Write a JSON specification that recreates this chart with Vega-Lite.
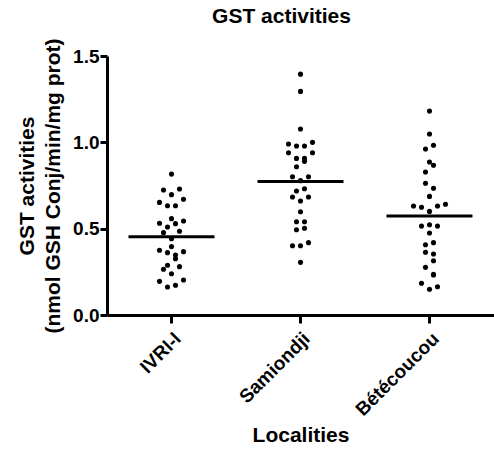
{
  "$schema": "https://vega.github.io/schema/vega-lite/v6.json",
  "width": 387,
  "height": 259,
  "autosize": {"type": "none"},
  "padding": {"left": 107, "top": 56, "right": 0, "bottom": 135},
  "background": "white",
  "title": {"text": "GST activities", "font": "Liberation Sans", "fontSize": 21, "fontWeight": "bold", "color": "black", "anchor": "middle", "dx": -19, "offset": 11},
  "config": {
    "view": {"stroke": null},
    "axis": {
      "grid": false,
      "domainColor": "black",
      "domainWidth": 3,
      "tickColor": "black",
      "tickWidth": 3,
      "labelColor": "black",
      "labelFont": "Liberation Sans",
      "labelFontWeight": "bold",
      "labelFontSize": 19,
      "titleColor": "black",
      "titleFont": "Liberation Sans",
      "titleFontWeight": "bold",
      "titleFontSize": 21
    }
  },
  "data": {
    "values": [
      {"locality": "IVRI-I", "gst": 0.816, "slot": 0},
      {"locality": "IVRI-I", "gst": 0.724, "slot": -2},
      {"locality": "IVRI-I", "gst": 0.730, "slot": 2},
      {"locality": "IVRI-I", "gst": 0.697, "slot": 0},
      {"locality": "IVRI-I", "gst": 0.652, "slot": -3},
      {"locality": "IVRI-I", "gst": 0.633, "slot": -1},
      {"locality": "IVRI-I", "gst": 0.633, "slot": 1},
      {"locality": "IVRI-I", "gst": 0.670, "slot": 3},
      {"locality": "IVRI-I", "gst": 0.558, "slot": 0},
      {"locality": "IVRI-I", "gst": 0.531, "slot": -3},
      {"locality": "IVRI-I", "gst": 0.510, "slot": -1},
      {"locality": "IVRI-I", "gst": 0.529, "slot": 1},
      {"locality": "IVRI-I", "gst": 0.544, "slot": 3},
      {"locality": "IVRI-I", "gst": 0.477, "slot": -2},
      {"locality": "IVRI-I", "gst": 0.485, "slot": 2},
      {"locality": "IVRI-I", "gst": 0.442, "slot": 0},
      {"locality": "IVRI-I", "gst": 0.396, "slot": 0},
      {"locality": "IVRI-I", "gst": 0.375, "slot": -3},
      {"locality": "IVRI-I", "gst": 0.361, "slot": -1},
      {"locality": "IVRI-I", "gst": 0.347, "slot": 1},
      {"locality": "IVRI-I", "gst": 0.326, "slot": 1},
      {"locality": "IVRI-I", "gst": 0.367, "slot": 3},
      {"locality": "IVRI-I", "gst": 0.288, "slot": -1},
      {"locality": "IVRI-I", "gst": 0.280, "slot": 2},
      {"locality": "IVRI-I", "gst": 0.265, "slot": -2},
      {"locality": "IVRI-I", "gst": 0.239, "slot": 0},
      {"locality": "IVRI-I", "gst": 0.195, "slot": -3},
      {"locality": "IVRI-I", "gst": 0.162, "slot": -1},
      {"locality": "IVRI-I", "gst": 0.172, "slot": 1},
      {"locality": "IVRI-I", "gst": 0.203, "slot": 3},
      {"locality": "Samiondji", "gst": 1.395, "slot": 0},
      {"locality": "Samiondji", "gst": 1.295, "slot": 0},
      {"locality": "Samiondji", "gst": 1.077, "slot": 0},
      {"locality": "Samiondji", "gst": 0.990, "slot": -3},
      {"locality": "Samiondji", "gst": 0.979, "slot": -1},
      {"locality": "Samiondji", "gst": 0.979, "slot": 1},
      {"locality": "Samiondji", "gst": 1.000, "slot": 3},
      {"locality": "Samiondji", "gst": 0.940, "slot": -3},
      {"locality": "Samiondji", "gst": 0.940, "slot": 3},
      {"locality": "Samiondji", "gst": 0.907, "slot": -1},
      {"locality": "Samiondji", "gst": 0.907, "slot": 1},
      {"locality": "Samiondji", "gst": 0.890, "slot": 1},
      {"locality": "Samiondji", "gst": 0.859, "slot": -1},
      {"locality": "Samiondji", "gst": 0.801, "slot": -2},
      {"locality": "Samiondji", "gst": 0.801, "slot": 2},
      {"locality": "Samiondji", "gst": 0.778, "slot": 0},
      {"locality": "Samiondji", "gst": 0.718, "slot": -1},
      {"locality": "Samiondji", "gst": 0.731, "slot": 1},
      {"locality": "Samiondji", "gst": 0.683, "slot": -2},
      {"locality": "Samiondji", "gst": 0.683, "slot": 2},
      {"locality": "Samiondji", "gst": 0.660, "slot": 0},
      {"locality": "Samiondji", "gst": 0.598, "slot": 0},
      {"locality": "Samiondji", "gst": 0.540, "slot": -1},
      {"locality": "Samiondji", "gst": 0.540, "slot": 1},
      {"locality": "Samiondji", "gst": 0.494, "slot": -1},
      {"locality": "Samiondji", "gst": 0.502, "slot": 1},
      {"locality": "Samiondji", "gst": 0.401, "slot": -2},
      {"locality": "Samiondji", "gst": 0.401, "slot": 0},
      {"locality": "Samiondji", "gst": 0.419, "slot": 2},
      {"locality": "Samiondji", "gst": 0.305, "slot": 0},
      {"locality": "Bétécoucou", "gst": 1.181, "slot": 0},
      {"locality": "Bétécoucou", "gst": 1.048, "slot": 0},
      {"locality": "Bétécoucou", "gst": 0.961, "slot": -1},
      {"locality": "Bétécoucou", "gst": 0.983, "slot": 1},
      {"locality": "Bétécoucou", "gst": 0.886, "slot": 0},
      {"locality": "Bétécoucou", "gst": 0.867, "slot": 1},
      {"locality": "Bétécoucou", "gst": 0.828, "slot": -1},
      {"locality": "Bétécoucou", "gst": 0.763, "slot": -1},
      {"locality": "Bétécoucou", "gst": 0.734, "slot": 1},
      {"locality": "Bétécoucou", "gst": 0.687, "slot": 0},
      {"locality": "Bétécoucou", "gst": 0.631, "slot": -4},
      {"locality": "Bétécoucou", "gst": 0.624, "slot": -2},
      {"locality": "Bétécoucou", "gst": 0.631, "slot": 2},
      {"locality": "Bétécoucou", "gst": 0.641, "slot": 4},
      {"locality": "Bétécoucou", "gst": 0.600, "slot": 0},
      {"locality": "Bétécoucou", "gst": 0.515, "slot": -2},
      {"locality": "Bétécoucou", "gst": 0.523, "slot": 0},
      {"locality": "Bétécoucou", "gst": 0.515, "slot": 2},
      {"locality": "Bétécoucou", "gst": 0.475, "slot": 0},
      {"locality": "Bétécoucou", "gst": 0.407, "slot": -1},
      {"locality": "Bétécoucou", "gst": 0.419, "slot": 1},
      {"locality": "Bétécoucou", "gst": 0.363, "slot": -1},
      {"locality": "Bétécoucou", "gst": 0.353, "slot": 1},
      {"locality": "Bétécoucou", "gst": 0.314, "slot": 1},
      {"locality": "Bétécoucou", "gst": 0.276, "slot": -1},
      {"locality": "Bétécoucou", "gst": 0.232, "slot": 1},
      {"locality": "Bétécoucou", "gst": 0.236, "slot": 1},
      {"locality": "Bétécoucou", "gst": 0.184, "slot": -2},
      {"locality": "Bétécoucou", "gst": 0.149, "slot": 0},
      {"locality": "Bétécoucou", "gst": 0.164, "slot": 2}
    ]
  },
  "layer": [
    {
      "mark": {"type": "circle", "size": 26, "opacity": 1, "color": "black"},
      "encoding": {
        "x": {
          "field": "locality", "type": "nominal",
          "sort": ["IVRI-I", "Samiondji", "Bétécoucou"],
          "scale": {"paddingInner": 0, "paddingOuter": 0},
          "axis": {"title": "Localities", "labelAngle": -45, "tickSize": 8, "labelPadding": 6, "titlePadding": 5}
        },
        "xOffset": {"field": "slot", "type": "quantitative", "scale": {"domain": [-4, 4], "range": [48.5, 80.5]}},
        "y": {
          "field": "gst", "type": "quantitative",
          "scale": {"domain": [0, 1.5], "nice": false},
          "axis": {"title": ["GST activities", "(nmol GSH Conj/min/mg prot)"], "values": [0, 0.5, 1, 1.5], "format": ".1f", "tickSize": 7, "labelPadding": 1, "titlePadding": 9, "titleLineHeight": 26}
        }
      }
    },
    {
      "mark": {"type": "tick", "size": 86, "thickness": 3, "color": "black"},
      "encoding": {
        "x": {"field": "locality", "type": "nominal", "sort": ["IVRI-I", "Samiondji", "Bétécoucou"]},
        "y": {"aggregate": "mean", "field": "gst", "type": "quantitative"}
      }
    }
  ]
}
